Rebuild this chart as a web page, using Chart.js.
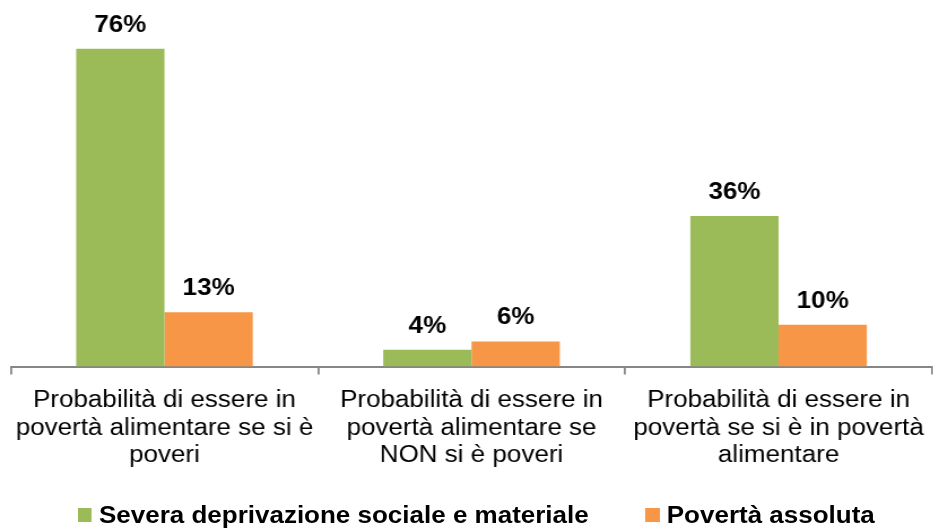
<!DOCTYPE html>
<html lang="it">
<head>
<meta charset="utf-8">
<title>Povertà alimentare</title>
<script src="https://cdn.jsdelivr.net/npm/chart.js@4.4.1/dist/chart.umd.min.js"></script>
<style>
  html, body { margin:0; padding:0; background:#fff; overflow:hidden; }
  /* the source image is a bit wider than tall, so stretch the whole chart horizontally */
  #wrap { position:relative; width:830px; height:528px; transform:scaleX(1.13); transform-origin:0 0; }
  #legend { position:absolute; left:69px; top:503px; display:flex; align-items:center;
            font:bold 23px "Liberation Sans", Arial, sans-serif; line-height:24px; color:#000; white-space:nowrap; }
  .lg-item { display:flex; align-items:center; }
  .lg-item + .lg-item { margin-left:50.5px; }
  .lg-box { width:12.4px; height:14px; margin-right:6.2px; }
</style>
</head>
<body>
<div id="wrap">
  <canvas id="chart" width="830" height="528"></canvas>
  <div id="legend"></div>
</div>
<script>
// Data
const categories = [
  ['Probabilità di essere in', 'povertà alimentare se si è', 'poveri'],
  ['Probabilità di essere in', 'povertà alimentare se', 'NON si è poveri'],
  ['Probabilità di essere in', 'povertà se si è in povertà', 'alimentare']
];
const seriesNames = ['Severa deprivazione sociale e materiale', 'Povertà assoluta'];
const deprivazione = [76, 4, 36];
const povertaAssoluta = [13, 6, 10];
const seriesColors = ['#9BBB59', '#F79646'];

Chart.defaults.font.family = '"Liberation Sans", Arial, sans-serif';

// value labels above the bars
const barLabels = {
  id: 'barLabels',
  afterDatasetsDraw(chart) {
    const ctx = chart.ctx;
    ctx.save();
    ctx.font = 'bold 23px "Liberation Sans", Arial, sans-serif';
    ctx.fillStyle = '#000';
    ctx.textAlign = 'center';
    ctx.textBaseline = 'alphabetic';
    chart.data.datasets.forEach(function(ds, i){
      chart.getDatasetMeta(i).data.forEach(function(bar, j){
        ctx.fillText(ds.data[j] + '%', bar.x, bar.y - 17);
      });
    });
    ctx.restore();
  }
};

const chart = new Chart(document.getElementById('chart'), {
  type: 'bar',
  data: {
    labels: categories,
    datasets: [
      { label: seriesNames[0], data: deprivazione, backgroundColor: seriesColors[0] },
      { label: seriesNames[1], data: povertaAssoluta, backgroundColor: seriesColors[1] }
    ]
  },
  options: {
    responsive: false,
    animation: false,
    layout: { padding: { top: 30, left: 9.7, right: -3, bottom: 0 } },
    datasets: { bar: { categoryPercentage: 0.575, barPercentage: 1 } },
    plugins: { legend: { display: false }, tooltip: { enabled: false } },
    scales: {
      x: {
        offset: true,
        grid: { display: true, offset: true, drawOnChartArea: false, drawTicks: true,
                tickLength: 8, color: '#868686', lineWidth: 1.77 },
        border: { display: true, color: '#868686', width: 2 },
        ticks: { color: '#000', font: { size: 23, lineHeight: 1.2 }, padding: 12.5,
                 maxRotation: 0, autoSkip: false },
        afterFit: function(scale){ scale.height = 161.5; }
      },
      y: { display: false, min: 0, max: 80.5 }
    }
  },
  plugins: [barLabels]
});

// html legend
const legend = document.getElementById('legend');
chart.data.datasets.forEach(function(ds){
  const item = document.createElement('span');
  item.className = 'lg-item';
  const box = document.createElement('span');
  box.className = 'lg-box';
  box.style.background = ds.backgroundColor;
  item.appendChild(box);
  item.appendChild(document.createTextNode(ds.label));
  legend.appendChild(item);
});
</script>
</body>
</html>
